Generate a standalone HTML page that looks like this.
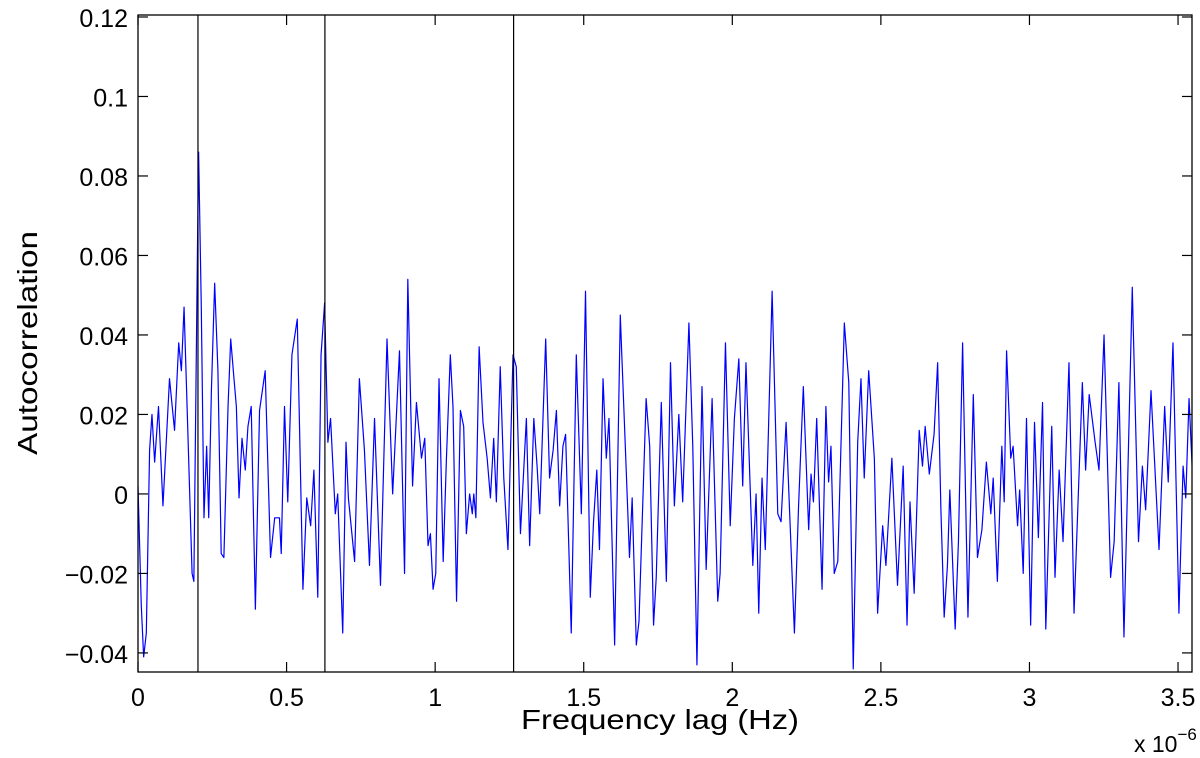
<!DOCTYPE html>
<html><head><meta charset="utf-8"><style>
html,body{margin:0;padding:0;background:#fff;}
svg{display:block;font-family:"Liberation Sans",Arial,sans-serif;}
</style></head><body>
<svg id="chart" width="1200" height="758" viewBox="0 0 1200 758">
<rect x="0" y="0" width="1200" height="758" fill="#fff"/>
<g id="marks"></g>
<g id="axes"></g>
<text x="660" y="729" font-size="28" text-anchor="middle" textLength="278" lengthAdjust="spacingAndGlyphs">Frequency lag (Hz)</text>
<text transform="translate(37,343) rotate(-90)" font-size="28" text-anchor="middle" textLength="224" lengthAdjust="spacingAndGlyphs">Autocorrelation</text>
<text x="1134" y="752" font-size="23">x 10<tspan dy="-12" font-size="17">−6</tspan></text>
</svg>
<script>
const lags1=[0,0.011,0.019,0.028,0.039,0.047,0.056,0.069,0.084,0.106,0.123,0.137,0.146,0.155,0.168,0.182,0.188,0.200,0.204,0.213,0.222,0.231,0.238,0.247,0.258,0.269,0.280,0.289,0.303,0.312,0.323,0.331,0.340,0.350,0.361,0.370,0.381,0.395,0.409,0.428,0.446,0.460,0.476,0.482,0.493,0.504,0.518,0.536,0.555,0.568,0.581,0.592,0.605,0.616,0.628,0.639,0.648,0.664,0.672,0.689,0.700,0.708,0.729,0.745,0.762,0.779,0.796,0.816,0.838,0.857,0.880,0.897,0.908];
const vals1=[0.002,-0.028,-0.041,-0.035,0.011,0.020,0.008,0.022,-0.003,0.029,0.016,0.038,0.031,0.047,0.015,-0.020,-0.022,0.061,0.086,0.047,-0.006,0.012,-0.006,0.026,0.053,0.031,-0.015,-0.016,0.022,0.039,0.029,0.022,-0.001,0.014,0.006,0.017,0.022,-0.029,0.021,0.031,-0.016,-0.006,-0.006,-0.015,0.022,-0.002,0.035,0.044,-0.024,-0.001,-0.008,0.006,-0.026,0.035,0.048,0.013,0.019,-0.005,0.000,-0.035,0.013,-0.001,-0.017,0.029,0.011,-0.018,0.019,-0.023,0.039,0.000,0.036,-0.020,0.054];
const lags2=[0.924,0.937,0.954,0.965,0.976,0.984,0.993,1.002,1.013,1.027,1.038,1.051,1.060,1.072,1.085,1.096,1.105,1.116,1.125,1.130,1.137,1.148,1.161,1.175,1.186,1.197,1.206,1.219,1.231,1.245,1.262,1.273,1.287,1.307,1.318,1.332,1.343,1.352,1.372,1.385,1.397,1.408,1.419,1.430,1.439,1.458,1.475,1.492,1.506,1.522,1.533,1.544,1.553,1.565,1.576,1.585,1.604,1.623,1.643,1.654,1.663,1.677,1.686,1.710,1.722,1.735,1.744,1.761,1.778];
const vals2=[0.002,0.023,0.009,0.014,-0.013,-0.010,-0.024,-0.020,0.029,-0.017,0.009,0.035,0.022,-0.027,0.021,0.017,-0.010,0.000,-0.005,0.000,-0.006,0.037,0.018,0.009,-0.001,0.014,-0.002,0.032,0.004,-0.014,0.035,0.032,-0.010,0.019,-0.013,0.019,0.007,-0.005,0.039,0.004,0.011,0.021,-0.003,0.012,0.015,-0.035,0.035,-0.005,0.051,-0.026,-0.007,0.006,-0.014,0.029,0.009,0.019,-0.038,0.045,0.006,-0.016,-0.001,-0.038,-0.032,0.024,0.012,-0.033,-0.021,0.023,-0.022];
const lags3=[1.792,1.805,1.820,1.833,1.854,1.867,1.881,1.898,1.912,1.932,1.951,1.959,1.977,1.993,2.007,2.022,2.035,2.046,2.069,2.080,2.089,2.100,2.111,2.134,2.153,2.164,2.181,2.209,2.223,2.239,2.257,2.265,2.273,2.284,2.302,2.315,2.324,2.332,2.343,2.355,2.377,2.392,2.407,2.422,2.433,2.444,2.459,2.478,2.489,2.506,2.517,2.537,2.556,2.575,2.588,2.598,2.612,2.629,2.640,2.649];
const vals3=[0.033,-0.003,0.020,-0.002,0.043,0.012,-0.043,0.027,-0.019,0.024,-0.027,-0.020,0.038,-0.008,0.019,0.034,0.002,0.033,-0.018,0.000,-0.030,0.004,-0.014,0.051,-0.005,-0.007,0.018,-0.035,-0.003,0.027,-0.009,0.005,-0.002,0.019,-0.024,0.022,0.003,0.012,-0.020,-0.017,0.043,0.028,-0.044,0.013,0.029,0.004,0.031,0.009,-0.030,-0.008,-0.018,0.009,-0.023,0.007,-0.033,-0.002,-0.025,0.016,0.007,0.017];
const lags4=[2.663,2.679,2.691,2.702,2.713,2.724,2.732,2.750,2.761,2.775,2.793,2.811,2.825,2.840,2.855,2.870,2.878,2.892,2.907,2.915,2.923,2.937,2.945,2.960,2.967,2.979,2.990,3.004,3.017,3.030,3.044,3.055,3.075,3.086,3.100,3.113,3.133,3.150,3.178,3.189,3.201,3.221,3.234,3.251,3.273,3.285,3.301,3.318,3.346,3.367,3.380,3.391,3.409,3.436,3.455,3.467,3.483,3.503,3.517,3.526,3.537,3.548];
const vals4=[0.005,0.015,0.033,-0.004,-0.031,-0.018,0.001,-0.034,-0.012,0.038,-0.031,0.025,-0.016,-0.009,0.008,-0.005,0.004,-0.022,0.012,-0.002,0.036,0.009,0.012,-0.008,0.001,-0.020,0.019,-0.033,0.018,-0.011,0.023,-0.034,0.017,-0.021,0.006,-0.012,0.033,-0.030,0.028,0.006,0.025,0.013,0.006,0.040,-0.021,-0.012,0.028,-0.036,0.052,-0.012,0.007,-0.004,0.026,-0.014,0.022,0.003,0.038,-0.030,0.007,-0.001,0.024,0.006];
const lags=lags1.concat(lags2,lags3,lags4);
const values=vals1.concat(vals2,vals3,vals4);
const lagMax=3.547; // x 1e-6 Hz
const markerLags=[0.2018,0.629,1.264];
const xTicks=[0,0.5,1,1.5,2,2.5,3,3.5];
const xTickLabels=["0","0.5","1","1.5","2","2.5","3","3.5"];
const yTicks=[-0.04,-0.02,0,0.02,0.04,0.06,0.08,0.1,0.12];
const yTickLabels=["−0.04","−0.02","0","0.02","0.04","0.06","0.08","0.1","0.12"];

const L=138,R=1192,T=15,B=672,yMin=-0.0448,yMax=0.1205;
const sx=v=>L+(v/lagMax)*(R-L);
const sy=v=>B-(v-yMin)/(yMax-yMin)*(B-T);
const NS="http://www.w3.org/2000/svg";
const marks=document.getElementById('marks'),axes=document.getElementById('axes');
function mk(tag,attrs,parent){const e=document.createElementNS(NS,tag);for(const k in attrs)e.setAttribute(k,attrs[k]);parent.appendChild(e);return e;}

const clip=mk('clipPath',{id:'pc'},marks);mk('rect',{x:L,y:T,width:R-L,height:B-T},clip);
let d='';values.forEach((v,i)=>{d+=(i?'L':'M')+sx(lags[i]).toFixed(2)+' '+sy(v).toFixed(2);});
const line=mk('path',{d:d,fill:'none',stroke:'#0000ff','stroke-width':1.2,'stroke-linejoin':'round','clip-path':'url(#pc)'},marks);


markerLags.forEach((m,i)=>{const l=mk('line',{x1:sx(m),x2:sx(m),y1:T,y2:B,stroke:'#000','stroke-width':1.2},marks);

});

const box=mk('rect',{x:L,y:T,width:R-L,height:B-T,fill:'none',stroke:'#000','stroke-width':1.3},axes);


xTicks.forEach((t,i)=>{const x=sx(t);
mk('line',{x1:x,x2:x,y1:B,y2:B-10,stroke:'#000','stroke-width':1.2},axes);
mk('line',{x1:x,x2:x,y1:T,y2:T+10,stroke:'#000','stroke-width':1.2},axes);
const tx=mk('text',{x:x,y:B+34,'font-size':25,'text-anchor':'middle'},axes);tx.textContent=xTickLabels[i];

});
yTicks.forEach((t,i)=>{const y=sy(t);
mk('line',{x1:L,x2:L+10,y1:y,y2:y,stroke:'#000','stroke-width':1.2},axes);
mk('line',{x1:R,x2:R-10,y1:y,y2:y,stroke:'#000','stroke-width':1.2},axes);
const tx=mk('text',{x:L-10,y:y+10,'font-size':25,'text-anchor':'end'},axes);tx.textContent=yTickLabels[i];

});
</script>
</body></html>
